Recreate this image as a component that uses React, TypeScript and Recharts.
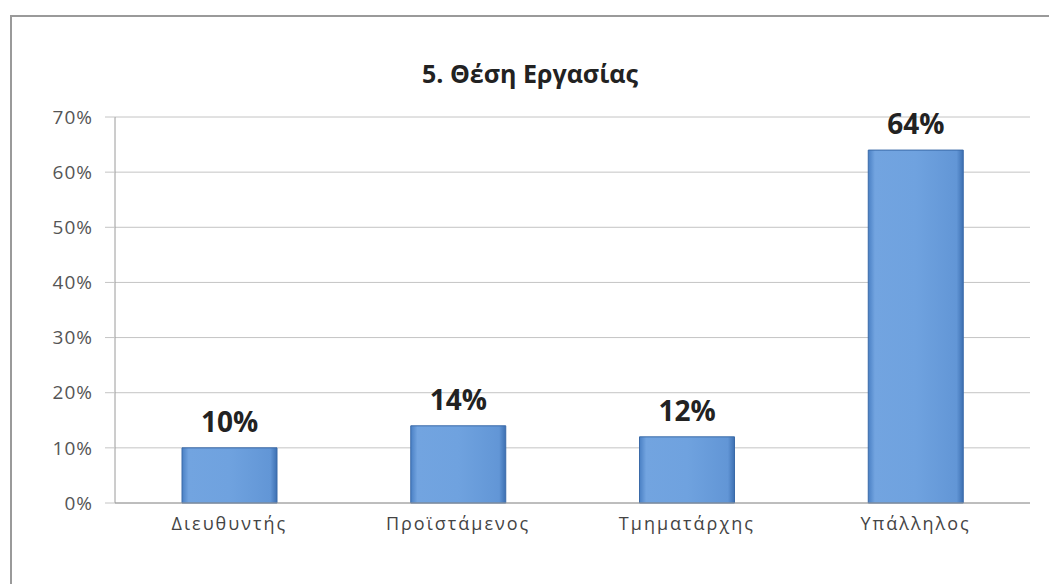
import React from 'react';
import { BarChart, Bar, XAxis, YAxis, CartesianGrid, LabelList } from 'recharts';

const categories = ['Διευθυντής', 'Προϊστάμενος', 'Τμηματάρχης', 'Υπάλληλος'];
const shares = [10, 14, 12, 64];
const yTicks = [0, 10, 20, 30, 40, 50, 60, 70];

const data = categories.map((name, i) => ({ name, value: shares[i] }));

const App: React.FC = () => {
    return (
        <div style={{ position: 'absolute', left: 0, top: 0, width: 1049, height: 584, background: '#fff', overflow: 'hidden', fontFamily: '"Open Sans", sans-serif' }}>
            <div style={{ position: 'absolute', left: 10, top: 15, width: 1100, height: 700, borderLeft: '2px solid #9a9a9a', borderTop: '2px solid #9a9a9a' }} />
            <div style={{ position: 'absolute', left: 0, width: 1060, top: 56, textAlign: 'center', fontSize: 25, fontWeight: 700, color: '#222' }}>
                5. Θέση Εργασίας
            </div>
            <BarChart
                width={1049}
                height={584}
                data={data}
                margin={{ top: 117, right: 19, left: 0, bottom: 0 }}
                barSize={95}
            >
                <defs>
                    <linearGradient id="barFill" x1="0" y1="0" x2="1" y2="0">
                        <stop offset="0%" stopColor="#4a80c4" />
                        <stop offset="7%" stopColor="#72a4e0" />
                        <stop offset="50%" stopColor="#6fa2df" />
                        <stop offset="93%" stopColor="#6296d6" />
                        <stop offset="100%" stopColor="#3d70b2" />
                    </linearGradient>
                </defs>
                <CartesianGrid vertical={false} stroke="#c4c4c4" />
                <XAxis
                    dataKey="name"
                    height={81}
                    tickLine={false}
                    axisLine={{ stroke: '#9a9a9a' }}
                    tickMargin={8}
                    tick={{ fontSize: 18, fill: '#444', letterSpacing: 2 }}
                />
                <YAxis
                    width={115}
                    domain={[0, 70]}
                    ticks={yTicks}
                    tickFormatter={(v) => `${v}%`}
                    tickSize={10}
                    tickMargin={12}
                    tickLine={{ stroke: '#c4c4c4' }}
                    axisLine={{ stroke: '#9a9a9a' }}
                    tick={{ fontSize: 19, fill: '#555', letterSpacing: 1 }}
                />
                <Bar dataKey="value" fill="url(#barFill)" stroke="#3a6aa8" strokeWidth={1} isAnimationActive={false}>
                    <LabelList
                        dataKey="value"
                        position="top"
                        offset={16}
                        formatter={(v: any) => `${v}%`}
                        style={{ fontSize: 28, fontWeight: 700, fill: '#222' }}
                    />
                </Bar>
            </BarChart>
        </div>
    );
};

export default App;
